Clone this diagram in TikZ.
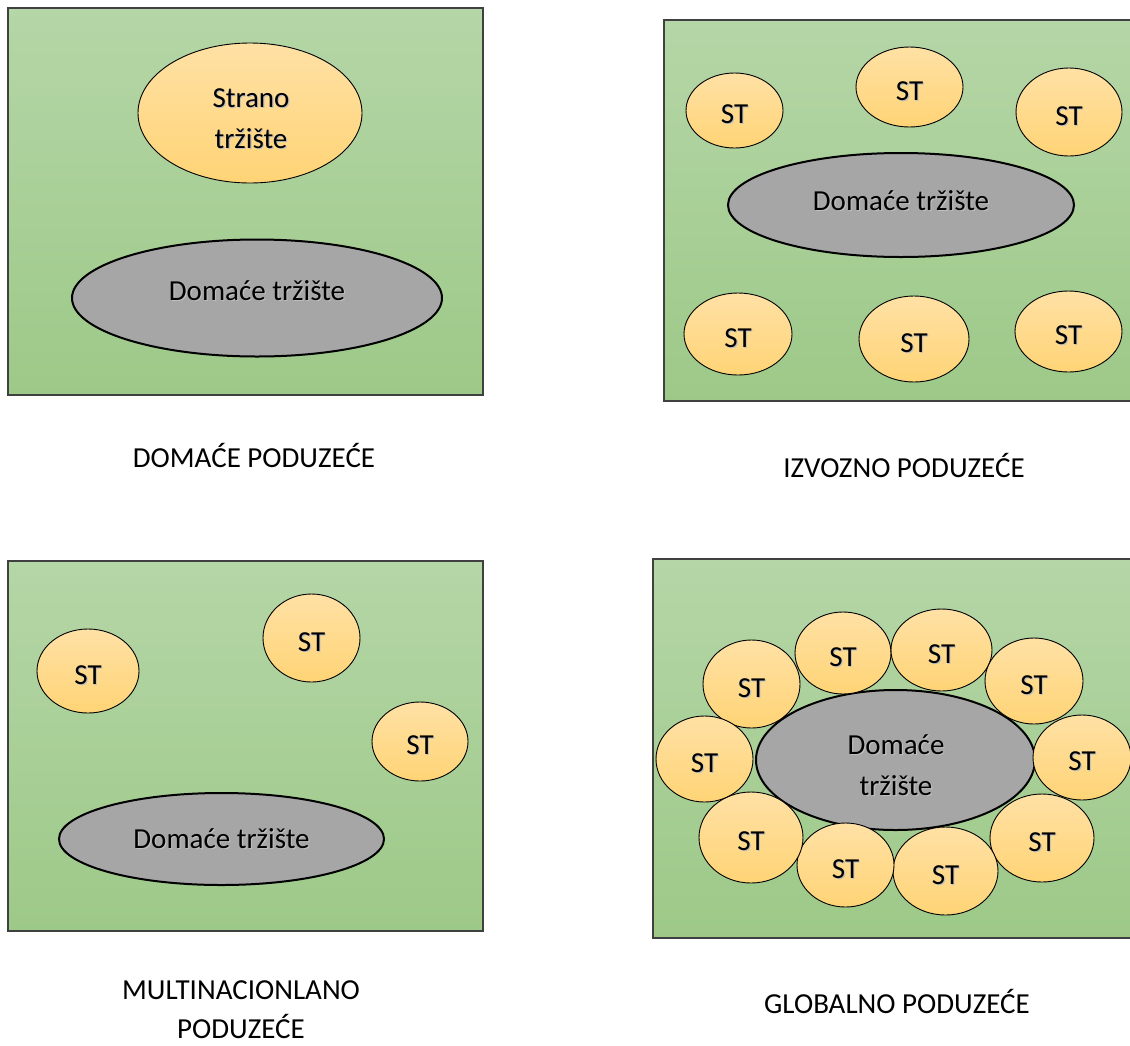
\documentclass[tikz,border=0pt]{standalone}
\usepackage{fontspec}
\setmainfont{Carlito}
\usetikzlibrary{shapes.geometric}
\definecolor{gtop}{RGB}{181,214,167}
\definecolor{gbot}{RGB}{157,201,136}
\definecolor{otop}{RGB}{255,225,165}
\definecolor{obot}{RGB}{255,212,118}
\definecolor{grayfill}{RGB}{166,166,166}
\newcommand\sh[1]{\leavevmode\rlap{\kern1.2pt\raisebox{-1.2pt}{\textcolor{black!25}{#1}}}#1}
\tikzset{
  panel/.style={draw=black!75, line width=1.2pt, top color=gtop, bottom color=gbot},
  stbub/.style={ellipse, draw=black, line width=0.9pt, top color=otop, bottom color=obot, inner sep=0pt, font=\fontsize{29}{34}\selectfont},
  dom/.style={ellipse, draw=black, line width=2pt, fill=grayfill, inner sep=0pt},
  txt/.style={font=\fontsize{29}{41}\selectfont, align=center, inner sep=0pt},
  captxt/.style={font=\fontsize{29}{39}\selectfont, align=center, inner sep=0pt}
}
\newcommand\STn[5]{\node[stbub, minimum width=#4pt, minimum height=#5pt] (#1) at (#2,#3) {\raisebox{-13pt}[0pt][0pt]{\sh{ST}}};}
\begin{document}
\begin{tikzpicture}[x=1pt,y=-1pt]
\useasboundingbox (0,0) rectangle (1130,1045);
\clip (0,0) rectangle (1130,1045);
% ---------- panel 1
\draw[panel] (8,8) rectangle (483,395);
\node[stbub, minimum width=224pt, minimum height=140pt] (st1) at (250,113) {};
\node[txt] (st1t) at (251,119) {\sh{Strano}\\\sh{tržište}};
\node[dom, minimum width=370pt, minimum height=117pt] (d1) at (257,298) {};
\node[txt] (d1t) at (257,291) {\sh{Domaće tržište}};
\node[captxt] (c1) at (254,455) {DOMAĆE PODUZEĆE};
% ---------- panel 2
\draw[panel] (664,20) rectangle (1140,401);
\STn{a1}{734.5}{110.5}{97}{75}
\STn{a2}{909.5}{87}{107}{80}
\STn{a3}{1069}{112}{106}{88}
\node[dom, minimum width=346pt, minimum height=104pt] (d2) at (901,205) {};
\node[txt] (d2t) at (901,201) {\sh{Domaće tržište}};
\STn{a4}{738}{334}{108}{82}
\STn{a5}{914}{339}{110}{86}
\STn{a6}{1068.5}{331.5}{107}{81}
\node[captxt] (c2) at (904,465) {IZVOZNO PODUZEĆE};
% ---------- panel 3
\draw[panel] (8,561) rectangle (483,931);
\STn{b1}{88}{671}{102}{84}
\STn{b2}{311.5}{638}{97}{88}
\STn{b3}{420}{741.5}{96}{79}
\node[dom, minimum width=325pt, minimum height=92pt] (d3) at (221.5,839) {};
\node[txt] (d3t) at (221.5,839) {\sh{Domaće tržište}};
\node[captxt] (c3) at (241,1010) {MULTINACIONLANO\\PODUZEĆE};
% ---------- panel 4
\draw[panel] (653,559) rectangle (1140,938);
\node[dom, minimum width=279pt, minimum height=140pt] (d4) at (895.5,760) {};
\node[txt] (d4t) at (896,766) {\sh{Domaće}\\\sh{tržište}};
\STn{g1}{751.5}{684}{97}{88}
\STn{g2}{843}{653}{96}{82}
\STn{g3}{941.5}{650}{101}{82}
\STn{g4}{1034}{681}{98}{86}
\STn{g5}{1082}{757.5}{98}{85}
\STn{g6}{1042}{838}{104}{88}
\STn{g7}{945.5}{871}{105}{88}
\STn{g8}{845.5}{865}{97}{84}
\STn{g9}{751}{837.5}{104}{91}
\STn{g10}{704.5}{759}{97}{86}
\node[captxt] (c4) at (897,1001) {GLOBALNO PODUZEĆE};
\end{tikzpicture}
\end{document}
